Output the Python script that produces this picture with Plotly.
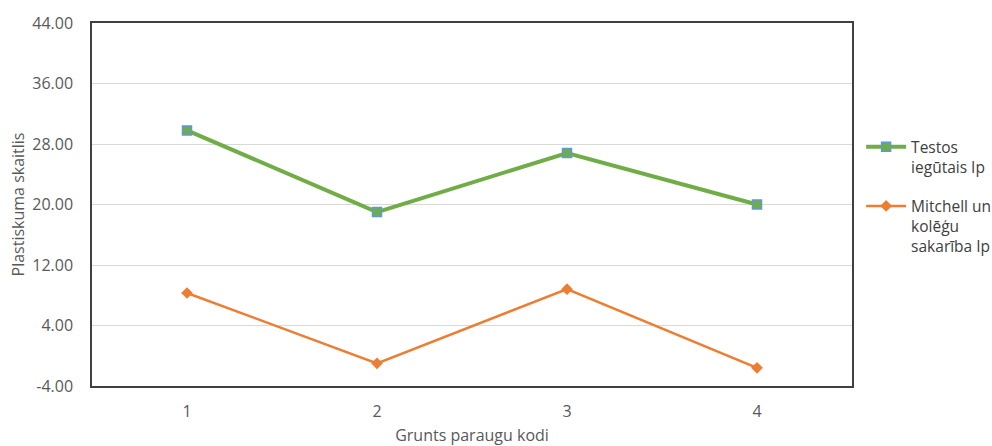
import plotly.graph_objects as go

categories = ["1", "2", "3", "4"]
testos_ip = [29.8, 19.0, 26.8, 20.0]
mitchell_ip = [8.3, -1.0, 8.8, -1.6]
y_ticks = [-4, 4, 12, 20, 28, 36, 44]
y_tick_labels = ["-4.00", "4.00", "12.00", "20.00", "28.00", "36.00", "44.00"]

fig = go.Figure()
fig.add_trace(go.Scatter(
    x=categories, y=testos_ip, mode="lines+markers",
    name="Testos<br>iegūtais Ip", legendgroup="g1",
    line=dict(color="#70AD47", width=4),
    marker=dict(symbol="square", size=9, color="#70AD47",
                line=dict(color="#5B9BD5", width=1.5)),
))
fig.add_trace(go.Scatter(
    x=categories, y=mitchell_ip, mode="lines+markers",
    name="Mitchell un<br>kolēģu<br>sakarība Ip", legendgroup="g2",
    line=dict(color="#ED7D31", width=2.5),
    marker=dict(symbol="diamond", size=9, color="#ED7D31"),
))

fig.update_layout(
    width=992, height=446,
    margin=dict(l=92, r=140, t=23, b=60, autoexpand=False),
    paper_bgcolor="white", plot_bgcolor="white",
    font=dict(family="Open Sans, Liberation Sans, sans-serif", size=16, color="#595959"),
    legend=dict(x=1.012, y=0.705, xanchor="left", yanchor="top",
                itemwidth=40, tracegroupgap=16, valign="top",
                font=dict(size=15.5, color="#404040")),
    xaxis=dict(
        type="category", range=[-0.5, 3.5], automargin=False,
        showgrid=False, showline=True, linecolor="#404040", linewidth=1.5,
        mirror=True, ticks="", ticklabelstandoff=10,
        title=dict(text="Grunts paraugu kodi", standoff=26, font=dict(size=16)),
        tickfont=dict(size=16),
    ),
    yaxis=dict(
        range=[-4, 44], tickvals=y_ticks, ticktext=y_tick_labels, automargin=False,
        showgrid=True, gridcolor="#D9D9D9", gridwidth=1,
        showline=True, linecolor="#404040", linewidth=1.5, mirror=True,
        zeroline=False, ticks="", ticklabelstandoff=14,
        title=dict(text="Plastiskuma skaitlis", standoff=4, font=dict(size=16)),
        tickfont=dict(size=16),
    ),
)

fig.write_html("out.html", config={"displayModeBar": False},
               post_script="document.body.style.margin='0';document.body.style.overflow='hidden';")
